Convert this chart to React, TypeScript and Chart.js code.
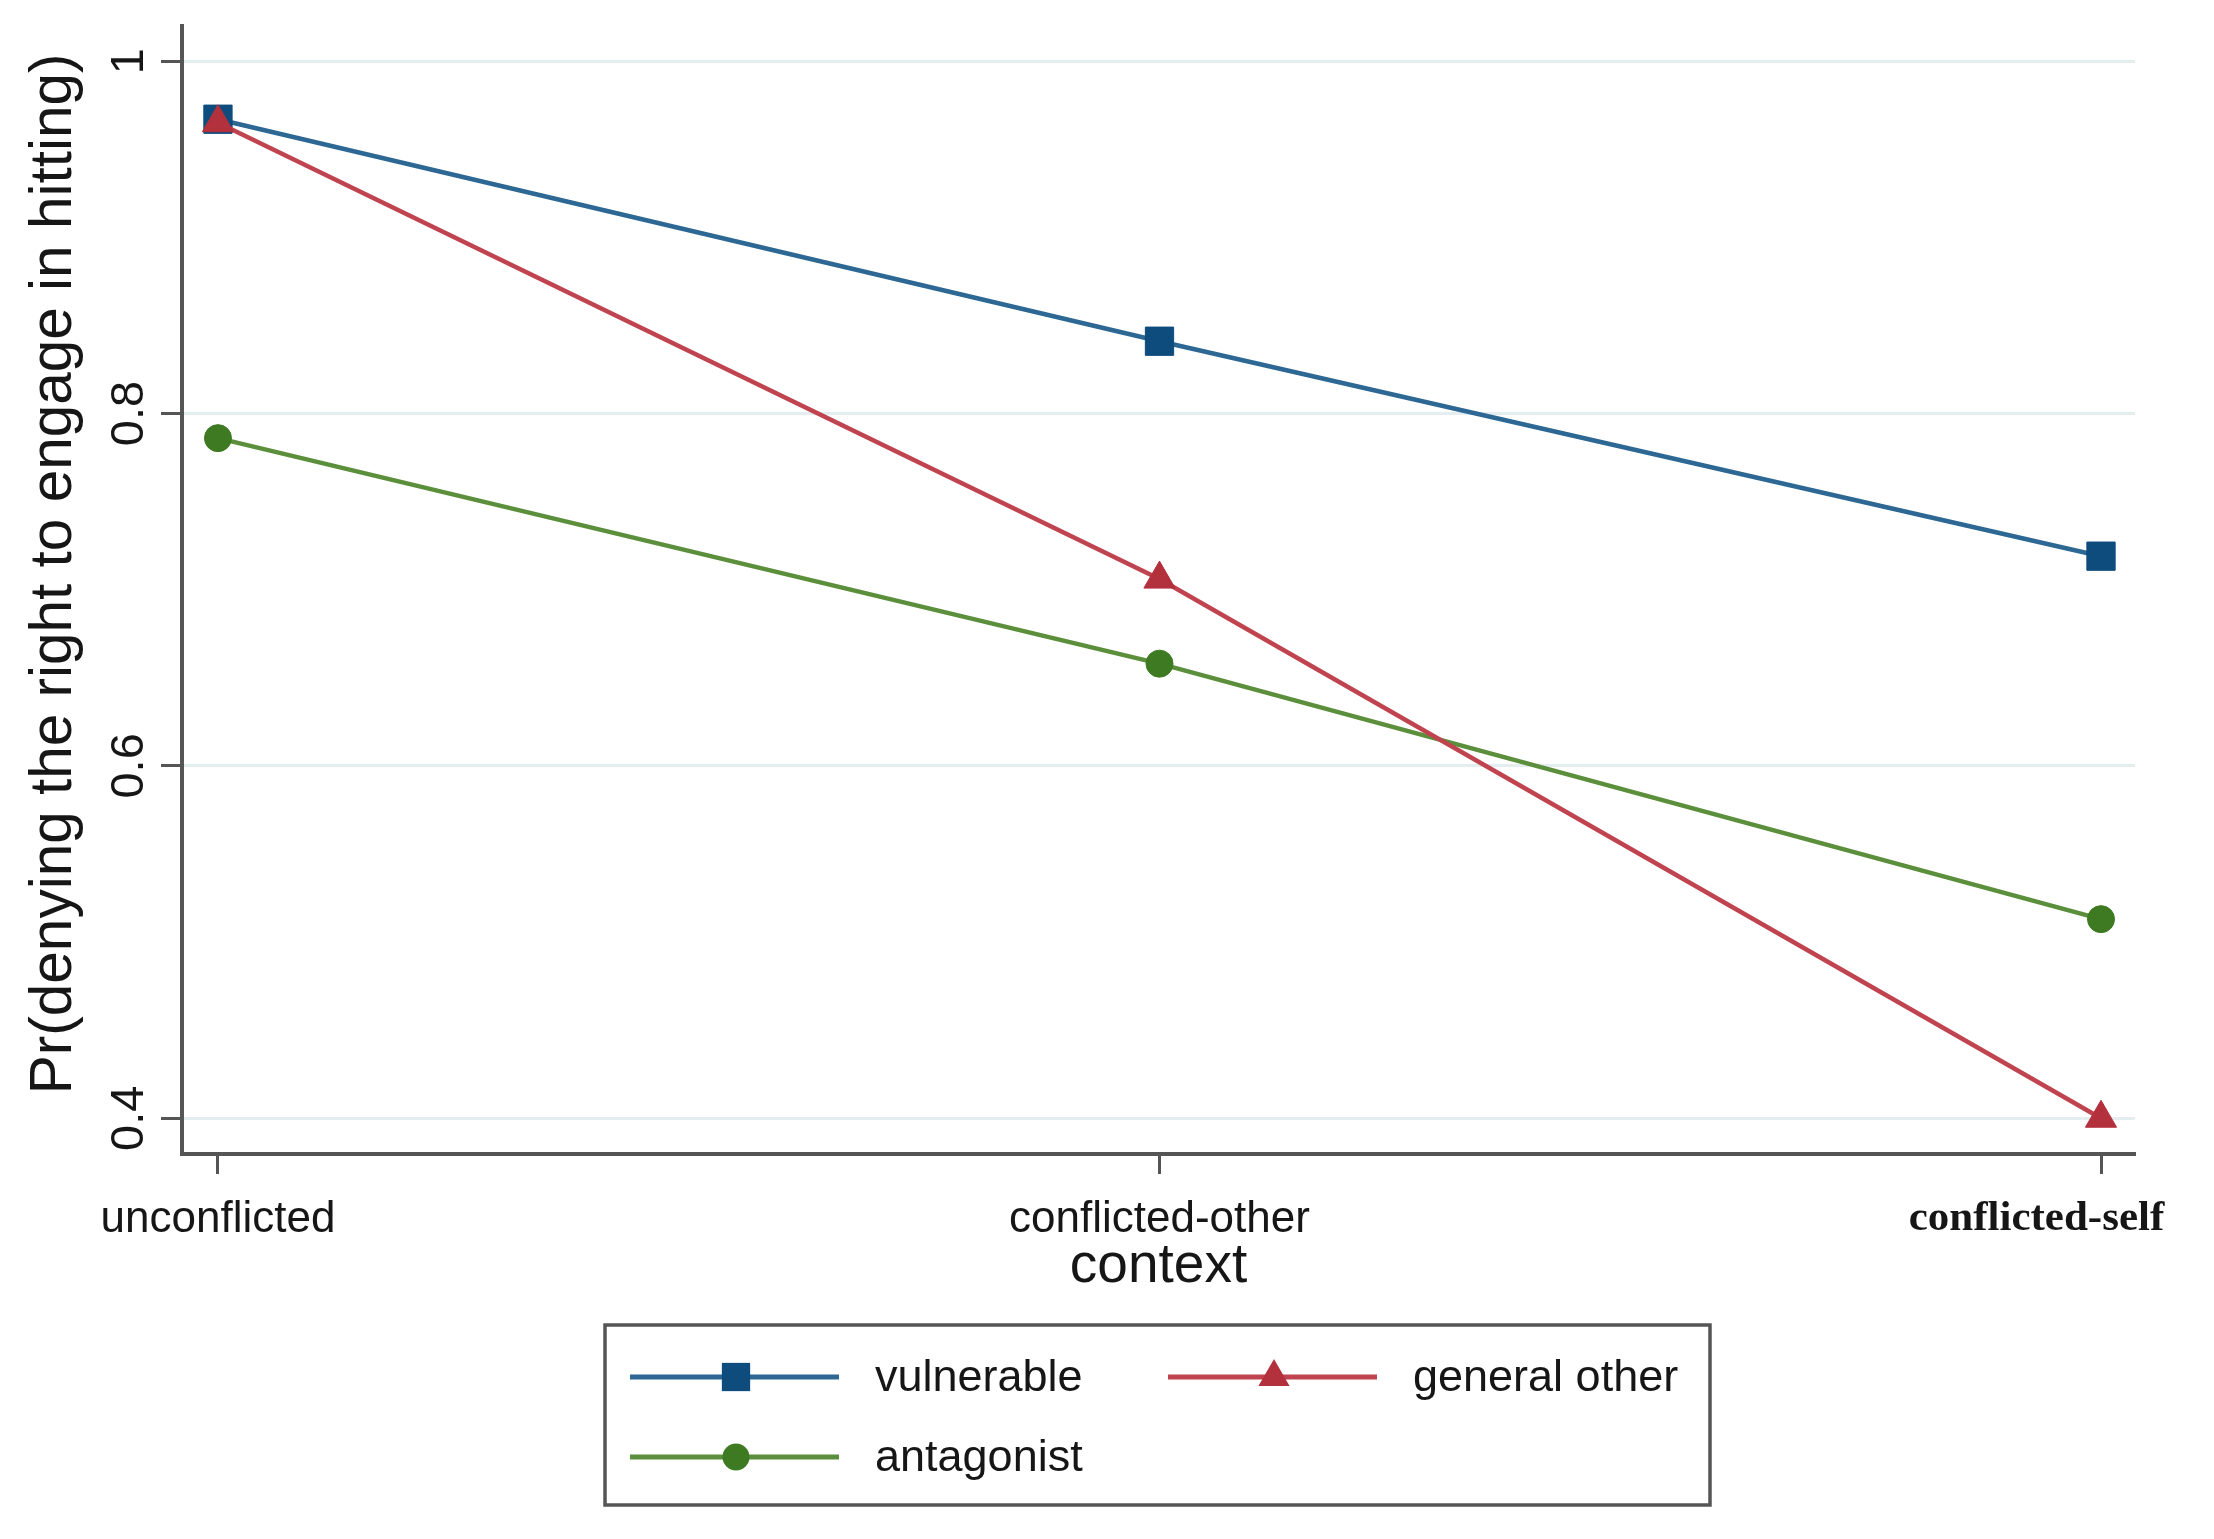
import React, { useEffect, useRef } from 'react';
import { Chart, registerables } from 'chart.js';

Chart.register(...registerables);

// ---- data ----
const categories = ['unconflicted', 'conflicted-other', 'conflicted-self'];
const xPositions = [0, 1, 2];
const seriesNames = ['vulnerable', 'general other', 'antagonist'];
const vulnerable = [0.967, 0.841, 0.719];
const generalOther = [0.965, 0.706, 0.4];
const antagonist = [0.786, 0.658, 0.513];
const yTicks = [0.4, 0.6, 0.8, 1];
const yTickLabels = ['0.4', '0.6', '0.8', '1'];
const yTitle = 'Pr(denying the right to engage in hitting)';
const xTitle = 'context';

const SANS = '"Liberation Sans", Arial, Helvetica, sans-serif';
const SERIF = '"Liberation Serif", "Times New Roman", serif';
const AXIS = '#555555';
const TEXT = '#161616';

const lineColors = ['#2d6794', '#c0444f', '#5b8f3c'];
const markerColors = ['#0f4c7e', '#b3303d', '#3d7a22'];
const markerStyles = ['rect', 'triangle', 'circle'];
const markerRadii = [20, 18, 13.5];

function drawMarker(ctx: CanvasRenderingContext2D, style: string, x: number, y: number, r: number, color: string) {
  ctx.fillStyle = color;
  ctx.beginPath();
  if (style === 'rect') {
    const s = Math.SQRT1_2 * r;
    ctx.rect(x - s, y - s, 2 * s, 2 * s);
  } else if (style === 'triangle') {
    let a = 0;
    ctx.moveTo(x + Math.sin(a) * r, y - Math.cos(a) * r);
    a += (2 * Math.PI) / 3;
    ctx.lineTo(x + Math.sin(a) * r, y - Math.cos(a) * r);
    a += (2 * Math.PI) / 3;
    ctx.lineTo(x + Math.sin(a) * r, y - Math.cos(a) * r);
    ctx.closePath();
  } else {
    ctx.arc(x, y, r, 0, Math.PI * 2);
  }
  ctx.fill();
}

const legendPlugin = {
  id: 'stataLegend',
  afterDraw(chart: any) {
    const ctx: CanvasRenderingContext2D = chart.ctx;
    ctx.save();
    ctx.lineWidth = 3.5;
    ctx.strokeStyle = AXIS;
    ctx.strokeRect(605, 1325, 1105, 180);
    const entries = [
      { ds: 0, x: 630, y: 1377 },
      { ds: 1, x: 1168, y: 1377 },
      { ds: 2, x: 630, y: 1457 },
    ];
    entries.forEach((e) => {
      const ds = chart.data.datasets[e.ds];
      ctx.strokeStyle = ds.borderColor;
      ctx.lineWidth = 5;
      ctx.beginPath();
      ctx.moveTo(e.x, e.y);
      ctx.lineTo(e.x + 209, e.y);
      ctx.stroke();
      drawMarker(ctx, ds.pointStyle, e.x + 106, e.y, ds.pointRadius, ds.pointBackgroundColor);
      ctx.fillStyle = TEXT;
      ctx.font = `45px ${SANS}`;
      ctx.textAlign = 'left';
      ctx.textBaseline = 'middle';
      ctx.fillText(ds.label, e.x + 245, e.y + 2);
    });
    ctx.restore();
  },
};

export default function App() {
  const ref = useRef<HTMLCanvasElement | null>(null);

  useEffect(() => {
    document.body.style.margin = '0';
    const canvas = ref.current;
    if (!canvas) return;
    const seriesValues = [vulnerable, generalOther, antagonist];
    const datasets = seriesValues.map((vals, k) => ({
      label: seriesNames[k],
      data: vals.map((v, i) => ({ x: xPositions[i], y: v })),
      borderColor: lineColors[k],
      backgroundColor: markerColors[k],
      pointBackgroundColor: markerColors[k],
      pointBorderColor: markerColors[k],
      pointBorderWidth: 1,
      pointStyle: markerStyles[k],
      pointRadius: markerRadii[k],
      borderWidth: 4.5,
      tension: 0,
      fill: false,
      order: k === 1 ? 0 : k === 0 ? 1 : 2,
    }));

    const chart = new Chart(canvas, {
      type: 'line',
      data: { datasets },
      plugins: [legendPlugin],
      options: {
        animation: false,
        responsive: false,
        devicePixelRatio: 1,
        layout: { padding: { top: 20, right: 79, bottom: 0, left: 0 } },
        plugins: { legend: { display: false }, tooltip: { enabled: false } },
        scales: {
          x: {
            type: 'linear',
            min: -0.0382,
            max: 2.0361,
            afterBuildTicks: (s: any) => {
              s.ticks = xPositions.map((v) => ({ value: v }));
            },
            afterFit: (s: any) => {
              s.height = 385;
              s.paddingLeft = 0;
              s.paddingRight = 0;
            },
            border: { color: AXIS, width: 4 },
            grid: { drawOnChartArea: false, tickLength: 20, tickWidth: 3, tickColor: AXIS },
            ticks: {
              autoSkip: false,
              minRotation: 0,
              maxRotation: 0,
              padding: 19,
              color: TEXT,
              font: (c: any) =>
                c.index === 2
                  ? { family: SERIF, size: 43, weight: 'bold' }
                  : { family: SANS, size: 44 },
              callback: (v: any) => {
                const i = xPositions.indexOf(Number(v));
                if (i < 0) return '';
                return i === 2 ? categories[i] + ' '.repeat(12) : categories[i];
              },
            },
            title: {
              display: true,
              text: xTitle,
              color: TEXT,
              font: { family: SANS, size: 55 },
              padding: { top: 0, bottom: 239 },
            },
          },
          y: {
            type: 'linear',
            min: 0.3797,
            max: 1.0198,
            afterBuildTicks: (s: any) => {
              s.ticks = yTicks.map((v) => ({ value: v }));
            },
            afterFit: (s: any) => {
              s.width = 182;
            },
            border: { color: AXIS, width: 4 },
            grid: { color: '#e4eef0', lineWidth: 3, tickLength: 21, tickWidth: 3, tickColor: AXIS },
            ticks: {
              minRotation: 90,
              maxRotation: 90,
              crossAlign: 'center',
              padding: -2,
              color: TEXT,
              font: { family: SANS, size: 47 },
              callback: (v: any) => {
                const i = yTicks.indexOf(Number(v));
                return i < 0 ? '' : yTickLabels[i];
              },
            },
            title: {
              display: true,
              text: '  ' + yTitle,
              color: TEXT,
              font: { family: SANS, size: 58.5 },
              padding: { top: 20, bottom: 0 },
            },
          },
        },
      } as any,
    });
    return () => chart.destroy();
  }, []);

  return (
    <div style={{ width: 2214, height: 1539, overflow: 'hidden', background: '#fff' }}>
      <canvas ref={ref} width={2214} height={1539} style={{ display: 'block' }} />
    </div>
  );
}
